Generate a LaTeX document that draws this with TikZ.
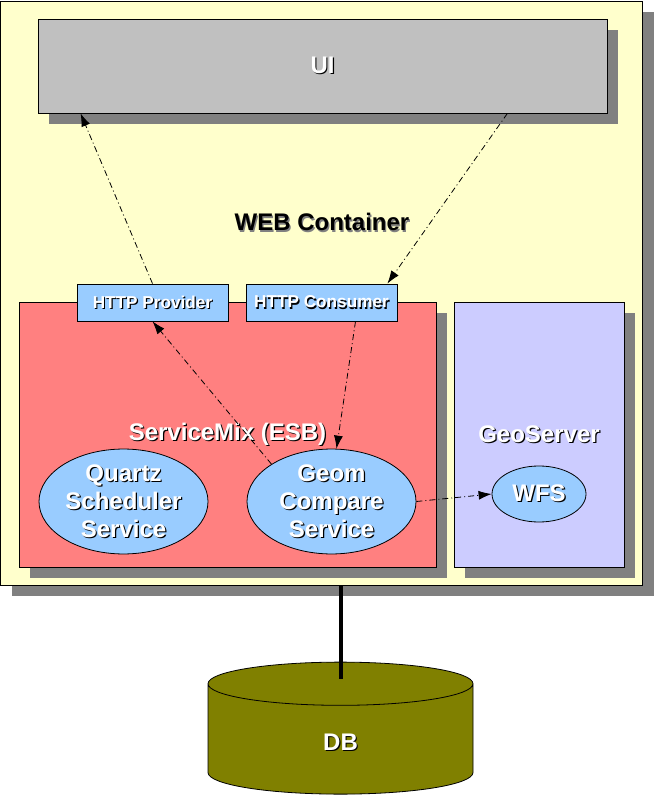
\documentclass[tikz,border=0pt]{standalone}
\usepackage{fontspec}
\setmainfont{Liberation Sans}
\usepackage{tikz}
\usetikzlibrary{shapes.geometric, arrows.meta, shadows, positioning}
\definecolor{webyellow}{HTML}{FFFFCC}
\definecolor{shadowgray}{HTML}{808080}
\definecolor{uigray}{HTML}{C0C0C0}
\definecolor{esbred}{HTML}{FF8080}
\definecolor{geolilac}{HTML}{CCCCFF}
\definecolor{svcblue}{HTML}{99CCFF}
\definecolor{dbolive}{HTML}{808000}
\newcommand{\emb}[2][black]{\makebox[0pt][l]{\hspace*{0.6pt}\raisebox{-0.6pt}{\textcolor{#1}{#2}}}#2}
\tikzstyle{txt} = [font=\fontsize{12}{14}\selectfont\bfseries, text=white, align=center]
\tikzstyle{box} = [rectangle, draw=black, inner sep=0pt, txt, general shadow={fill=shadowgray, shadow xshift=5.5pt, shadow yshift=-5.5pt}]
\tikzstyle{port} = [rectangle, draw=black, fill=svcblue, inner sep=0pt, minimum width=75.5pt, minimum height=18.5pt, txt, font=\fontsize{8.6}{10}\selectfont\bfseries]
\tikzstyle{svc} = [ellipse, draw=black, fill=svcblue, inner sep=0pt, minimum width=84.5pt, minimum height=46.5pt, txt]
\tikzstyle{arrow} = [-{Latex[length=6.5pt,width=4.5pt]}, dash pattern=on 3pt off 1.5pt on 0.5pt off 1.5pt]
\tikzstyle{link} = [line width=2pt]

\begin{document}
\begin{tikzpicture}[x=0.5pt, y=-0.5pt, node distance=84.5pt]
    \useasboundingbox (0,0) rectangle (655,795);
    \node (web) [box, fill=webyellow, minimum width=321pt, minimum height=292pt] at (321.5,293) {};
    \node (ui) [box, fill=uigray, minimum width=284.5pt, minimum height=47pt] at (322.5,66) {\emb{UI}};
    \node (webtitle) [txt, text=black] at (322,223) {\emb[shadowgray]{WEB Container}};
    \node (esb) [box, fill=esbred, minimum width=208.5pt, minimum height=132.5pt] at (227.5,434.5) {\emb{ServiceMix (ESB)}};
    \node (geo) [box, fill=geolilac, minimum width=85pt, minimum height=132.5pt] at (539,434.5) {\emb{GeoServer}};
    \node (provider) [port] at (152.5,302.5) {\emb{HTTP Provider}};
    \node (consumer) [port, right of=provider] {\emb{HTTP Consumer}};
    \node (quartz) [svc] at (123.5,501.5) {\emb{Quartz}\\\emb{Scheduler}\\\emb{Service}};
    \node (geom) [svc, right of=quartz, xshift=19.5pt] {\emb{Geom}\\\emb{Compare}\\\emb{Service}};
    \node (wfs) [svc, minimum width=47pt, minimum height=28pt] at (539,494) {\emb{WFS}};
    \node (db) [cylinder, shape border rotate=90, aspect=0.9, draw=black, fill=dbolive, minimum width=132.5pt, minimum height=66pt, txt] at (340.5,742.5) {\emb{DB}};

    \draw [arrow] (provider.north) -- ([xshift=21.5pt]ui.south west);
    \draw [arrow] ([xshift=-50pt]ui.south east) -- ([xshift=-5pt]consumer.north east);
    \draw [arrow] (geom.north west) -- (provider.south);
    \draw [arrow] ([xshift=17pt]consumer.south) -- ([xshift=2.5pt]geom.north);
    \draw [arrow] (geom.east) -- (wfs.west);
    \draw [link] (db.north |- web.south) -- ([yshift=-8.5pt]db.north);
\end{tikzpicture}
\end{document}
